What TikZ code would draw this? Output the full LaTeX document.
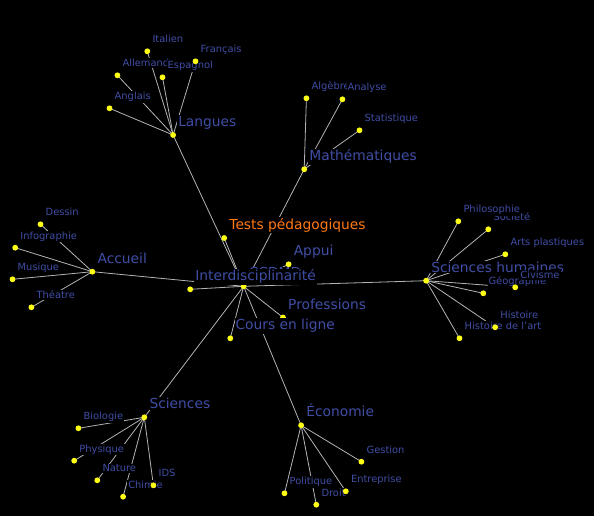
\documentclass[tikz,border=0pt]{standalone}
\usepackage{fontspec}
\setmainfont{DejaVu Sans}
\definecolor{lbl}{RGB}{64,78,165}
\definecolor{org}{RGB}{255,122,20}
\definecolor{edgec}{RGB}{180,180,180}
\definecolor{doty}{RGB}{255,255,20}
\begin{document}
\begin{tikzpicture}[x=1pt,y=-1pt,
  dot/.style={circle,fill=doty,inner sep=0pt,minimum size=5.8pt},
  lab/.style={anchor=base west,fill=black,text=lbl,inner xsep=1pt,inner ysep=1pt,xshift=4pt,yshift=8.5pt},
  big/.style={lab,font=\fontsize{13.8}{16}\selectfont},
  small/.style={lab,font=\fontsize{9.9}{12}\selectfont},
  link/.style={draw=edgec,line width=0.8pt}]
\fill[black] (0,0) rectangle (594,516);
\useasboundingbox (0,0) rectangle (594,516);
% positions
\coordinate (c) at (243.6,286.3);
\coordinate (tp) at (224.2,238);
\coordinate (ap) at (288.6,264.3);
\coordinate (id) at (190.2,289.3);
\coordinate (pr) at (283,317.5);
\coordinate (cl) at (230.3,338.3);
\coordinate (L) at (173.1,135);
\coordinate (it) at (147.3,51.3);
\coordinate (fr) at (195.5,61.3);
\coordinate (al) at (117.4,75.3);
\coordinate (es) at (162.5,77.3);
\coordinate (an) at (109.5,108.3);
\coordinate (M) at (304.2,169.3);
\coordinate (alg) at (306.4,98.3);
\coordinate (ana) at (342.4,99.3);
\coordinate (sta) at (359.5,130.3);
\coordinate (A) at (92.4,271.7);
\coordinate (des) at (40.5,224.3);
\coordinate (inf) at (15.2,247.7);
\coordinate (mus) at (12.5,279.3);
\coordinate (the) at (31.4,307.3);
\coordinate (H) at (426.1,280.7);
\coordinate (phi) at (458.3,221.3);
\coordinate (soc) at (488.3,229.3);
\coordinate (art) at (505.3,254.3);
\coordinate (civ) at (515.2,287.3);
\coordinate (geo) at (483.3,293.3);
\coordinate (his) at (495.1,327.3);
\coordinate (hda) at (459.5,338.3);
\coordinate (S) at (144.3,417.3);
\coordinate (bio) at (78.4,428.3);
\coordinate (phy) at (74.2,460.7);
\coordinate (nat) at (97.3,480.3);
\coordinate (chi) at (123.1,496.7);
\coordinate (ids) at (153.4,485.3);
\coordinate (E) at (301.1,425.3);
\coordinate (ges) at (361.4,461.7);
\coordinate (ent) at (345.8,491.3);
\coordinate (pol) at (284.5,493.3);
\coordinate (dro) at (316.3,504.7);
% connectors
\foreach \t in {tp,ap,id,pr,cl,L,M,A,H,S,E} \draw[link] (c) -- (\t);
\foreach \t in {it,fr,al,es,an} \draw[link] (L) -- (\t);
\foreach \t in {alg,ana,sta} \draw[link] (M) -- (\t);
\foreach \t in {des,inf,mus,the} \draw[link] (A) -- (\t);
\foreach \t in {phi,soc,art,civ,geo,his,hda} \draw[link] (H) -- (\t);
\foreach \t in {bio,phy,nat,chi,ids} \draw[link] (S) -- (\t);
\foreach \t in {ges,ent,pol,dro} \draw[link] (E) -- (\t);
% nodes: dot then label
\node[dot] (cD) at (c) {}; \node[big] (cT) at (c) {CCDMD};
\node[dot] (tpD) at (tp) {}; \node[big,text=org] (tpT) at (tp) {Tests pédagogiques};
\node[dot] (apD) at (ap) {}; \node[big] (apT) at (ap) {Appui};
\node[dot] (idD) at (id) {}; \node[big] (idT) at (id) {Interdisciplinarité};
\node[dot] (prD) at (pr) {}; \node[big] (prT) at (pr) {Professions};
\node[dot] (clD) at (cl) {}; \node[big] (clT) at (cl) {Cours en ligne};
\node[dot] (LD) at (L) {}; \node[big] (LT) at (L) {Langues};
\node[dot] (anD) at (an) {}; \node[small] (anT) at (an) {Anglais};
\node[dot] (itD) at (it) {}; \node[small] (itT) at (it) {Italien};
\node[dot] (alD) at (al) {}; \node[small] (alT) at (al) {Allemand};
\node[dot] (esD) at (es) {}; \node[small] (esT) at (es) {Espagnol};
\node[dot] (frD) at (fr) {}; \node[small] (frT) at (fr) {Français};
\node[dot] (MD) at (M) {}; \node[big] (MT) at (M) {Mathématiques};
\node[dot] (algD) at (alg) {}; \node[small] (algT) at (alg) {Algèbre};
\node[dot] (anaD) at (ana) {}; \node[small] (anaT) at (ana) {Analyse};
\node[dot] (staD) at (sta) {}; \node[small] (staT) at (sta) {Statistique};
\node[dot] (AD) at (A) {}; \node[big] (AT) at (A) {Accueil};
\node[dot] (desD) at (des) {}; \node[small] (desT) at (des) {Dessin};
\node[dot] (infD) at (inf) {}; \node[small] (infT) at (inf) {Infographie};
\node[dot] (musD) at (mus) {}; \node[small] (musT) at (mus) {Musique};
\node[dot] (theD) at (the) {}; \node[small] (theT) at (the) {Théatre};
\node[dot] (HD) at (H) {}; \node[big] (HT) at (H) {Sciences humaines};
\node[dot] (artD) at (art) {}; \node[small] (artT) at (art) {Arts plastiques};
\node[dot] (socD) at (soc) {}; \node[small] (socT) at (soc) {Societé};
\node[dot] (phiD) at (phi) {}; \node[small] (phiT) at (phi) {Philosophie};
\node[dot] (geoD) at (geo) {}; \node[small] (geoT) at (geo) {Géographie};
\node[dot] (civD) at (civ) {}; \node[small] (civT) at (civ) {Civisme};
\node[dot] (hdaD) at (hda) {}; \node[small] (hdaT) at (hda) {Histoire de l'art};
\node[dot] (hisD) at (his) {}; \node[small] (hisT) at (his) {Histoire};
\node[dot] (SD) at (S) {}; \node[big] (ST) at (S) {Sciences};
\node[dot] (bioD) at (bio) {}; \node[small] (bioT) at (bio) {Biologie};
\node[dot] (phyD) at (phy) {}; \node[small] (phyT) at (phy) {Physique};
\node[dot] (natD) at (nat) {}; \node[small] (natT) at (nat) {Nature};
\node[dot] (chiD) at (chi) {}; \node[small] (chiT) at (chi) {Chimie};
\node[dot] (idsD) at (ids) {}; \node[small] (idsT) at (ids) {IDS};
\node[dot] (ED) at (E) {}; \node[big] (ET) at (E) {Économie};
\node[dot] (gesD) at (ges) {}; \node[small] (gesT) at (ges) {Gestion};
\node[dot] (polD) at (pol) {}; \node[small] (polT) at (pol) {Politique};
\node[dot] (droD) at (dro) {}; \node[small] (droT) at (dro) {Droit};
\node[dot] (entD) at (ent) {}; \node[small] (entT) at (ent) {Entreprise};
\end{tikzpicture}
\end{document}
